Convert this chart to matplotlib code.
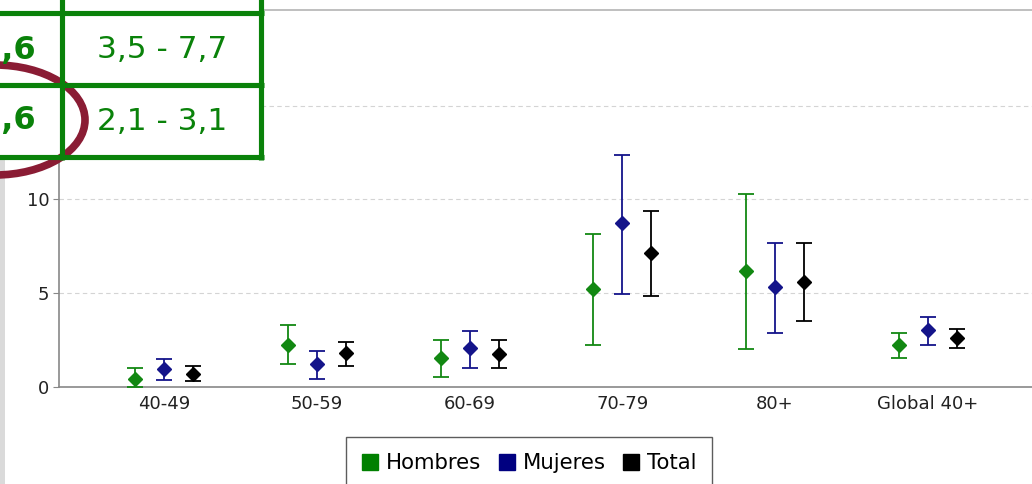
import numpy as np
from matplotlib import pyplot as plt
from matplotlib.lines import Line2D
from matplotlib.patches import Rectangle, Ellipse

# Data (value, lower, upper)
groups = ['40-49', '50-59', '60-69', '70-79', '80+', 'Global 40+']
series = ['Hombres', 'Mujeres', 'Total']
hombres = [0.45, 2.26, 1.52, 5.25, 6.18, 2.23]
hombres_lo = [0.0, 1.21, 0.53, 2.23, 2.03, 1.57]
hombres_hi = [1.0, 3.28, 2.49, 8.14, 10.3, 2.9]
mujeres = [0.94, 1.25, 2.08, 8.72, 5.34, 3.03]
mujeres_lo = [0.36, 0.45, 1.01, 4.95, 2.9, 2.23]
mujeres_hi = [1.48, 1.94, 2.97, 12.37, 7.66, 3.74]
total = [0.68, 1.82, 1.78, 7.12, 5.6, 2.6]
total_lo = [0.3, 1.1, 1.01, 4.86, 3.5, 2.1]
total_hi = [1.1, 2.4, 2.49, 9.36, 7.7, 3.1]

# Overlaid table text (partly visible)
table_left = ['5,6', '2,6']
table_right = ['3,5 - 7,7', '2,1 - 3,1']

colors = ['#128812', '#14148a', '#000000']
legend_colors = ['#008000', '#000080', '#000000']

W, H = 1032, 484
fig = plt.figure(figsize=(W / 100, H / 100), dpi=100)
ax = fig.add_axes([59 / W, (H - 387) / H, (1036 - 59) / W, (387 - 10) / H])

x = np.arange(len(groups))
offsets = [-0.19, 0.0, 0.19]
vals = [(hombres, hombres_lo, hombres_hi),
        (mujeres, mujeres_lo, mujeres_hi),
        (total, total_lo, total_hi)]
for (v, lo, hi), off, c in zip(vals, offsets, colors):
    v = np.array(v)
    err = [v - np.array(lo), np.array(hi) - v]
    ax.errorbar(x + off, v, yerr=err, fmt='D', color=c, ecolor=c,
                markersize=7.5, elinewidth=1.3, capsize=5.8, capthick=1.3,
                zorder=3)

ax.set_xlim(-0.69, 5.71)
ax.set_ylim(0, 20.1)
ax.set_xticks(x)
ax.set_xticklabels(groups, fontsize=13, color='#222222')
ax.set_yticks([0, 5, 10, 15])
ax.set_yticklabels(['0', '5', '10', '15'], fontsize=13, color='#222222')
ax.tick_params(axis='x', length=0, pad=6)
ax.tick_params(axis='y', length=4, color='#888888', pad=3)
ax.yaxis.grid(True, color='#d4d4d4', linestyle=(0, (4, 3)), linewidth=0.8)
ax.set_axisbelow(True)
for s in ['left', 'bottom']:
    ax.spines[s].set_color('#888888')
    ax.spines[s].set_linewidth(1.2)
ax.spines['top'].set_color('#b4b4b4')
ax.spines['top'].set_linewidth(1.2)
ax.spines['right'].set_visible(False)

handles = [Line2D([], [], marker='s', linestyle='none', markersize=11,
                  color=c) for c in legend_colors]
leg = fig.legend(handles, series, loc='upper center',
                 bbox_to_anchor=(529 / W, 1 - 437 / H), ncol=3, fontsize=15.3,
                 frameon=True, fancybox=False, edgecolor='#333333',
                 handlelength=0.8, handletextpad=0.35, columnspacing=0.8,
                 borderpad=0.75, borderaxespad=0)
leg.get_frame().set_linewidth(1.0)

# Overlay: table, circle and left strip, in pixel coordinates
ov = fig.add_axes([0, 0, 1, 1], zorder=10)
ov.set_xlim(0, W)
ov.set_ylim(H, 0)
ov.axis('off')
ov.patch.set_alpha(0)

ov.add_patch(Rectangle((0, 160), 5, H - 160, color='#dadada', lw=0))
ov.add_patch(Rectangle((-10, -10), 273, 169, color='white', lw=0))
green = '#0a820a'
for yy in [13, 85, 157]:
    ov.plot([-10, 263.5], [yy, yy], color=green, lw=3.7, solid_capstyle='butt')
for xx in [62, 261]:
    ov.plot([xx, xx], [-10, 159.5], color=green, lw=3.7, solid_capstyle='butt')
for i, (l, r) in enumerate(zip(table_left, table_right)):
    yc = 50 + i * 71
    ov.text(36, yc, l, ha='right', va='center', fontsize=23,
            fontweight='bold', color=green)
    ov.text(162, yc, r, ha='center', va='center', fontsize=22.5,
            color=green)

ov.add_patch(Ellipse((-5, 120), 180, 110, fill=False, edgecolor='#8a1c34',
                     lw=5.5))

fig.savefig('out.png', dpi=100)
